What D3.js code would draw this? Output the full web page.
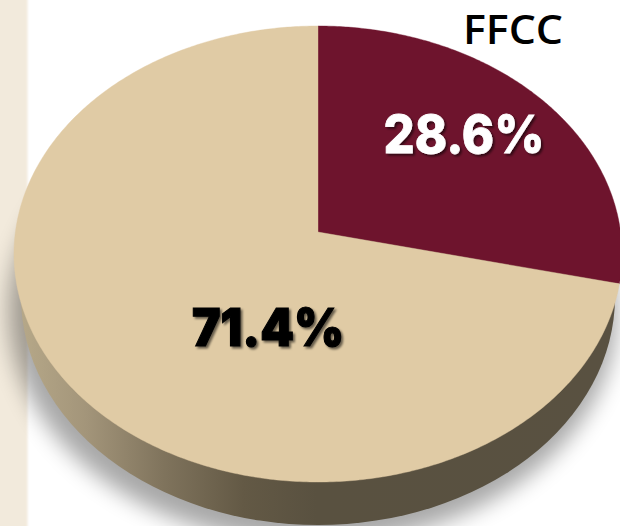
<!DOCTYPE html>
<html><head><meta charset="utf-8">
<script src="https://cdn.jsdelivr.net/npm/d3@7"></script>
<style>html,body{margin:0;padding:0;background:#fff;overflow:hidden}svg{display:block}</style>
</head><body><svg id="c" width="620" height="526"></svg>
<script>
const categories = ["FFCC", "Other"];
const values = [28.6, 71.4];
const labels = ["28.6%", "71.4%"];
const title = "FFCC";
const colors = ["#6e142d", "#e0cba5"];

const svg = d3.select("#c");
const defs = svg.append("defs");
const wallGrad = defs.append("linearGradient").attr("id","wall").attr("gradientUnits","userSpaceOnUse")
  .attr("x1",13).attr("x2",620).attr("y1",0).attr("y2",0);
[[0,"#b8aa8a"],[0.12,"#a3957a"],[0.25,"#7f735c"],[0.38,"#635945"],[0.5,"#595140"],[1,"#595141"]]
  .forEach(s=>wallGrad.append("stop").attr("offset",s[0]).attr("stop-color",s[1]));
const blur = (id,s)=>defs.append("filter").attr("id",id).attr("x","-20%").attr("y","-20%").attr("width","140%").attr("height","140%")
  .append("feGaussianBlur").attr("stdDeviation",s);
blur("sh",11); blur("band",1.2);
const ts = (id,c,o,dx,dy,s)=>defs.append("filter").attr("id",id).attr("x","-10%").attr("y","-20%").attr("width","125%").attr("height","150%")
  .append("feDropShadow").attr("dx",dx).attr("dy",dy).attr("stdDeviation",s).attr("flood-color",c).attr("flood-opacity",o);
ts("ts0","#000",0.55,2,2,1.3); ts("ts1","#000",0.55,2,2,1.3);

// perspective projection of the unit disc
const cx=318, cy=232, A=302.6, B=225.9, k=0.0965;
const proj = (t,r=1)=>{const x=r*Math.sin(t), y=-r*Math.cos(t), w=1-k*y; return [cx+A*x/w, cy+B*y/w];};
const line = d3.line().curve(d3.curveLinearClosed);
const sector = (a0,a1)=>{
  const n=Math.max(2,Math.ceil((a1-a0)/0.01));
  const pts=d3.range(n+1).map(i=>proj(a0+(a1-a0)*i/n));
  pts.push([cx,cy]);
  return line(pts);
};

// left band
svg.append("rect").attr("x",-6).attr("y",-6).attr("width",33.5).attr("height",540).attr("fill","#f2eadc").attr("filter","url(#band)");

// wall + shadow
const wall = svg.append("g");
wall.append("ellipse").attr("cx",313).attr("cy",312).attr("rx",304).attr("ry",232)
  .attr("fill","#000").attr("opacity",0.34).attr("filter","url(#sh)");
wall.append("ellipse").attr("cx",318).attr("cy",297).attr("rx",297).attr("ry",228).attr("fill","url(#wall)");

// top face
const arcs = d3.pie().sort(null)(values);
svg.append("g").selectAll("path").data(arcs).join("path")
  .attr("d",d=>sector(d.startAngle,d.endAngle))
  .attr("fill",(d,i)=>colors[i])
  .attr("stroke",(d,i)=>colors[i]).attr("stroke-width",0.4);

// labels
const lp=[[464,153],[268,346]], lc=["#fff","#000"];
svg.append("g").selectAll("text").data(labels).join("text")
  .attr("x",(d,i)=>lp[i][0]).attr("y",(d,i)=>lp[i][1])
  .attr("text-anchor","middle").attr("font-family","Inter, 'Open Sans', sans-serif")
  .attr("font-weight",(d,i)=>i?900:800).attr("font-size",52)
  .attr("textLength",(d,i)=>i?152:161).attr("lengthAdjust","spacingAndGlyphs")
  .attr("stroke",(d,i)=>lc[i]).attr("stroke-width",(d,i)=>i?1.2:0.8)
  .attr("fill",(d,i)=>lc[i]).attr("filter",(d,i)=>`url(#ts${i})`).text(d=>d);

svg.append("text").attr("x",513).attr("y",44).attr("text-anchor","middle")
  .attr("font-family","'Open Sans', sans-serif").attr("font-weight",600).attr("font-size",40)
  .attr("textLength",100).attr("lengthAdjust","spacingAndGlyphs")
  .attr("fill","#000").text(title);
</script></body></html>
